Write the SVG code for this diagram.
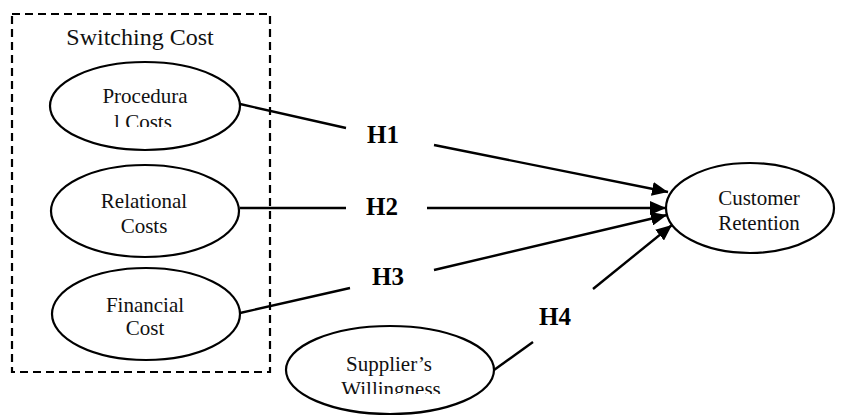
<svg xmlns="http://www.w3.org/2000/svg" width="842" height="416" viewBox="0 0 842 416">
  <style>
    .node { fill: #fff; stroke: #000; stroke-width: 2.2; }
    .lbl { font-family: "Liberation Serif", "Times New Roman", serif; font-size: 21px; fill: #111; text-anchor: middle; }
    .title { font-family: "Liberation Serif", "Times New Roman", serif; font-size: 24px; fill: #111; text-anchor: middle; }
    .hyp { font-family: "Liberation Serif", "Times New Roman", serif; font-size: 25px; font-weight: bold; fill: #000; text-anchor: middle; }
    .edge { fill: none; stroke: #000; stroke-width: 2.4; }
    .group-box { fill: none; stroke: #000; stroke-width: 2.2; stroke-dasharray: 8 5; }
  </style>
  <defs>
    <marker id="arrow" markerUnits="userSpaceOnUse" markerWidth="17" markerHeight="14" refX="16" refY="7" orient="auto">
      <path d="M0,0 L16,7 L0,14 Z" fill="#000"/>
    </marker>
    <clipPath id="clip-proc"><rect x="50" y="60" width="190" height="67"/></clipPath>
    <clipPath id="clip-supp"><rect x="286" y="320" width="210" height="74"/></clipPath>
  </defs>

  <rect width="842" height="416" fill="#fff"/>

  <!-- Switching cost grouping -->
  <g id="switching-cost">
    <rect class="group-box" x="12" y="14" width="258" height="358"/>
    <text class="title" x="140" y="45">Switching Cost</text>
  </g>

  <!-- Connectors -->
  <g id="connectors">
    <line class="edge" x1="240" y1="104" x2="346" y2="128"/>
    <line class="edge" x1="434" y1="145" x2="668" y2="192" marker-end="url(#arrow)"/>

    <line class="edge" x1="240" y1="208" x2="346" y2="208"/>
    <line class="edge" x1="427" y1="208" x2="666" y2="208" marker-end="url(#arrow)"/>

    <line class="edge" x1="240" y1="313" x2="350" y2="288"/>
    <line class="edge" x1="434" y1="270" x2="667" y2="215" marker-end="url(#arrow)"/>

    <line class="edge" x1="494" y1="370" x2="533" y2="342"/>
    <line class="edge" x1="593" y1="289" x2="672" y2="225" marker-end="url(#arrow)"/>

    <text class="hyp" x="383" y="143">H1</text>
    <text class="hyp" x="382" y="215">H2</text>
    <text class="hyp" x="388" y="285">H3</text>
    <text class="hyp" x="555" y="325">H4</text>
  </g>

  <g id="procedural-costs">
    <ellipse class="node" cx="145" cy="106" rx="95" ry="44"/>
    <g clip-path="url(#clip-proc)">
      <text class="lbl" x="145" y="103">Procedura</text>
      <text class="lbl" x="143" y="129">l Costs</text>
    </g>
  </g>

  <g id="relational-costs">
    <ellipse class="node" cx="145" cy="211" rx="94" ry="46"/>
    <text class="lbl" x="144" y="208">Relational</text>
    <text class="lbl" x="144" y="233">Costs</text>
  </g>

  <g id="financial-cost">
    <ellipse class="node" cx="146" cy="314" rx="94" ry="46"/>
    <text class="lbl" x="145" y="312">Financial</text>
    <text class="lbl" x="145" y="335">Cost</text>
  </g>

  <g id="suppliers-willingness">
    <ellipse class="node" cx="390" cy="370" rx="104" ry="44"/>
    <g clip-path="url(#clip-supp)">
      <text class="lbl" x="389" y="371">Supplier’s</text>
      <text class="lbl" x="391" y="396">Willingness</text>
    </g>
  </g>

  <g id="customer-retention">
    <ellipse class="node" cx="750" cy="208" rx="84" ry="45"/>
    <text class="lbl" x="759" y="205">Customer</text>
    <text class="lbl" x="759" y="230">Retention</text>
  </g>
</svg>
